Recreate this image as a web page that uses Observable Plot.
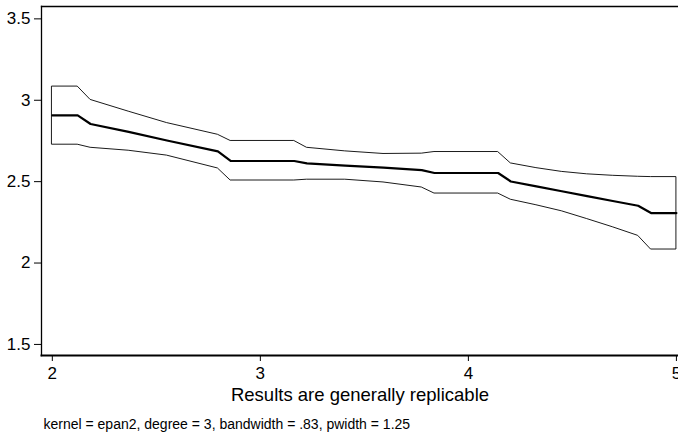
<!DOCTYPE html>
<html>
<head>
<meta charset="utf-8">
<script src="https://cdn.jsdelivr.net/npm/d3@7"></script>
<script src="https://cdn.jsdelivr.net/npm/@observablehq/plot@0.6"></script>
<style>
  html, body { margin: 0; padding: 0; background: #fff; }
  #chart svg { display: block; }
</style>
</head>
<body>
<div id="chart"></div>
<script>
// Grid points of the local polynomial fit (x = "Results are generally replicable")
const xs = [2.000, 2.122, 2.184, 2.367, 2.551, 2.796, 2.857, 3.163, 3.224, 3.408, 3.592,
            3.776, 3.837, 4.143, 4.204, 4.327, 4.449, 4.571, 4.694, 4.816, 4.878, 5.000];
// Smoothed value
const fit = [2.907, 2.907, 2.854, 2.806, 2.753, 2.686, 2.627, 2.627, 2.612, 2.598, 2.586,
             2.571, 2.553, 2.553, 2.501, 2.471, 2.441, 2.411, 2.381, 2.352, 2.307, 2.307];
// Upper confidence bound
const upper = [3.084, 3.084, 3.002, 2.930, 2.860, 2.788, 2.750, 2.750, 2.708, 2.686, 2.670,
               2.672, 2.682, 2.682, 2.612, 2.583, 2.560, 2.545, 2.536, 2.530, 2.528, 2.528];
// Lower confidence bound
const lower = [2.727, 2.727, 2.708, 2.690, 2.660, 2.581, 2.507, 2.507, 2.512, 2.512, 2.495,
               2.464, 2.427, 2.427, 2.389, 2.355, 2.318, 2.270, 2.220, 2.167, 2.083, 2.083];

const xTicks = [2, 3, 4, 5];
const yTicks = [1.5, 2, 2.5, 3, 3.5];
const xTitle = "Results are generally replicable";
const note = "kernel = epan2, degree = 3, bandwidth = .83, pwidth = 1.25";

const data = xs.map((x, i) => ({x, fit: fit[i], hi: upper[i], lo: lower[i]}));

const chart = Plot.plot({
  width: 678,
  height: 441,
  marginLeft: 41,
  marginRight: 0,
  marginTop: 6,
  marginBottom: 86,
  style: {fontFamily: "'Liberation Sans', Arial, sans-serif", fontSize: "17px", color: "black", background: "white"},
  x: {domain: [1.948, 5.01]},
  y: {domain: [1.432, 3.576]},
  marks: [
    Plot.areaY(data, {x: "x", y1: "lo", y2: "hi", fill: "white", stroke: "black", strokeWidth: 0.9}),
    Plot.lineY(data, {x: "x", y: "fit", stroke: "black", strokeWidth: 2.2}),
    Plot.frame({anchor: "top", stroke: "black", strokeWidth: 1.3}),
    Plot.frame({anchor: "left", stroke: "black", strokeWidth: 1.3}),
    Plot.frame({anchor: "bottom", stroke: "black", strokeWidth: 2}),
    Plot.axisX({ticks: xTicks, tickFormat: d => String(d), tickSize: 6, tickPadding: 5, fontSize: 17, label: null, stroke: "black"}),
    Plot.axisY({ticks: yTicks, tickFormat: d => String(d), tickSize: 7, tickPadding: 4, fontSize: 17, label: null, stroke: "black"}),
    Plot.text([xTitle], {frameAnchor: "bottom", dy: 45, fontSize: 18.5, fill: "black"}),
    Plot.text([note], {frameAnchor: "bottom-left", textAnchor: "start", dx: 2, dy: 73, fontSize: 14, fill: "black"})
  ]
});
document.getElementById("chart").appendChild(chart);
</script>
</body>
</html>
